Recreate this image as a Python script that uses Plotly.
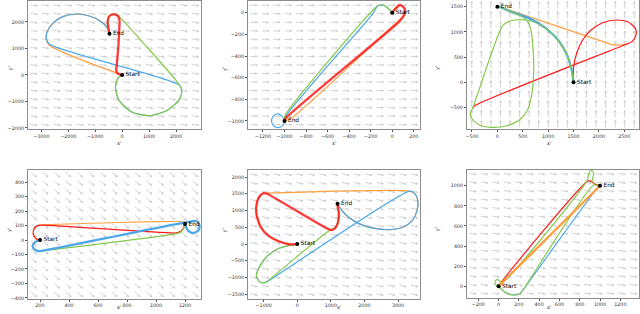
import numpy as np
import plotly.graph_objects as go

# ---------------- data ----------------
# Panel 1
p1_start = (0, 0)
p1_end = (-470, 1560)
p1_blue_x = [0, -161, -248, -124, 334, 1015, 1696, 2129, 2215, 2129, -2698, -2822, -2785, -2574, -2203, -1708, -1213, -780, -532, -470]
p1_blue_y = [0, -126, -465, -943, -1384, -1535, -1321, -918, -591, -377, 1157, 1384, 1635, 1950, 2201, 2302, 2226, 2013, 1761, 1560]
p1_orange_x = [0, -2698, -2822, -2785, -2574, -2203, -1708, -1213, -780, -532, -470]
p1_orange_y = [0, 1120, 1384, 1635, 1950, 2201, 2302, 2226, 2013, 1761, 1560]
p1_green_x = [0, -161, -248, -124, 334, 1015, 1696, 2129, 2215, 2129, -74, -161, -347, -495, -557, -520, -470]
p1_green_y = [0, -126, -465, -943, -1384, -1535, -1321, -918, -591, -377, 2176, 2264, 2302, 2201, 1950, 1698, 1560]
p1_red_x = [0, -161, -223, -198, -99, -99, -161, -309, -470, -532, -507, -470]
p1_red_y = [0, 63, 189, 377, 1887, 2075, 2226, 2289, 2226, 2050, 1761, 1560]

# Panel 2
p2_start = (0, 0)
p2_end = (-1000, -1000)
p2_blue_x = [0, -23, -54, -101, -141, -178, -990, -1005, -1040, -1080, -1112, -1120, -1100, -1060, -1025, -1000]
p2_blue_y = [0, 25, 55, 71, 55, -6, -960, -1025, -1058, -1058, -1030, -990, -950, -935, -955, -1000]
p2_orange_x = [0, 33, 70, 107, 120, 105, 85, -937, -1000]
p2_orange_y = [0, 40, 71, 49, 9, -40, -52, -975, -1000]
p2_green_x = [0, -23, -48, -79, -116, -147, -998, -1000]
p2_green_y = [0, 25, 49, 71, 71, 55, -954, -1000]
p2_red_x = [0, 33, 70, 107, 120, 101, 54, -989, -1000]
p2_red_y = [0, 40, 71, 49, 9, -37, -92, -975, -1000]

# Panel 3
p3_start = (1500, 0)
p3_end = (0, 1500)
p3_blue_x = [0, 302, 630, 958, 1221, 1385, 1464, 1500]
p3_blue_y = [1513, 1388, 1268, 1069, 805, 507, 242, 0]
p3_orange_x = [0, 2139, 2270, 2402, 2534]
p3_orange_y = [1513, 785, 745, 738, 758]
p3_green_x = [0, 301, 563, 662, 708, 715, 681, 596, 432, 169, -126, -356, -507, -533, -487, 91, 202, 334, 563, 760, 958, 1220, 1384, 1463, 1500]
p3_green_y = [1513, 1388, 1248, 1036, 573, 175, -222, -553, -751, -871, -897, -851, -719, -619, -520, 1103, 1196, 1235, 1235, 1182, 1069, 805, 507, 242, 0]
p3_red_x = [1500, 1502, 1561, 1680, 1844, 2074, 2337, 2567, 2718, 2731, 2652, 2501, -455, -487]
p3_red_y = [0, 307, 573, 838, 1036, 1182, 1235, 1202, 1069, 937, 805, 739, -474, -520]

# Panel 4
p4_start = (200, 0)
p4_end = (1200, 110)
p4_blue_x = [200, 166, 149, 159, 189, 218, 1246, 1281, 1299, 1292, 1258, 1225, 1207, 1200]
p4_blue_y = [0, -14, -37, -62, -76, -74, 129, 129, 101, 67, 48, 62, 90, 110]
p4_orange_x = [200, 172, 154, 159, 182, 211, 1215, 1200]
p4_orange_y = [0, 9, 39, 78, 99, 103, 122, 110]
p4_green_x = [200, 166, 149, 159, 189, 218, 1143, 1170, 1189, 1200]
p4_green_y = [0, -14, -37, -62, -76, -74, 44, 53, 78, 110]
p4_red_x = [200, 172, 154, 159, 182, 211, 1120, 1154, 1184, 1200]
p4_red_y = [0, 9, 39, 78, 99, 103, 48, 53, 74, 110]

# Panel 5
p5_start = (0, 0)
p5_end = (1200, 1200)
p5_blue_x = [0, -226, -573, -871, -1099, -1218, -1139, -1000, -918, 3351, 3500, 3590, 3570, 3431, 3153, 2756, 2359, 1962, 1664, 1416, 1267, 1200]
p5_blue_y = [0, -39, -139, -338, -636, -934, -1113, -1163, -1134, 1581, 1502, 1303, 1005, 706, 507, 428, 458, 557, 706, 905, 1084, 1200]
p5_orange_x = [0, -226, -573, -871, -1089, -1218, -1198, -1099, -1000, -911, 3351, 3500, 3590, 3570, 3431, 3153, 2756, 2359, 1962, 1664, 1416, 1267, 1200]
p5_orange_y = [0, -9, 90, 259, 507, 905, 1253, 1452, 1521, 1521, 1581, 1502, 1303, 1005, 706, 507, 428, 458, 557, 706, 905, 1084, 1200]
p5_green_x = [0, -226, -573, -871, -1099, -1218, -1139, -1000, -901, 986, 1086, 1166, 1225, 1235, 1206, 1200]
p5_green_y = [0, -39, -139, -338, -636, -934, -1113, -1163, -1113, 428, 458, 557, 726, 954, 1104, 1200]
p5_red_x = [0, -226, -573, -871, -1089, -1218, -1198, -1099, -1000, -901, 966, 1066, 1166, 1225, 1235, 1206, 1200]
p5_red_y = [0, -9, 90, 259, 507, 905, 1253, 1452, 1521, 1501, 428, 428, 527, 706, 954, 1104, 1200]

# Panel 6
p6_start = (0, 0)
p6_end = (1000, 1000)
p6_blue_x = [0, 33, 89, 154, 210, 243, 976, 1000]
p6_blue_y = [0, -33, -73, -86, -73, -33, 980, 1000]
p6_orange_x = [0, 1000]
p6_orange_y = [0, 1000]
p6_green_x = [0, -20, -36, -20, 7, 26, 877, 884, 900, 923, 937, 927, 933, 960, 1000]
p6_green_y = [0, 10, 43, 66, 60, 33, 1060, 1103, 1142, 1149, 1119, 1069, 1030, 1003, 1000]
p6_green2_x = [0, 33, 89, 154, 210, 243, 940, 1000]
p6_green2_y = [0, -33, -73, -86, -73, -33, 1010, 1000]
p6_red_x = [0, 15, 887, 915, 960, 1000]
p6_red_y = [0, 25, 1050, 1040, 1010, 1000]

# axis ticks
p1_xticks = [-3000, -2000, -1000, 0, 1000, 2000]
p1_yticks = [-2000, -1000, 0, 1000, 2000]
p2_xticks = [-1200, -1000, -800, -600, -400, -200, 0, 200]
p2_yticks = [-1000, -800, -600, -400, -200, 0]
p3_xticks = [-500, 0, 500, 1000, 1500, 2000, 2500]
p3_yticks = [-500, 0, 500, 1000, 1500]
p4_xticks = [200, 400, 600, 800, 1000, 1200]
p4_yticks = [-400, -300, -200, -100, 0, 100, 200, 300, 400]
p5_xticks = [-1000, 0, 1000, 2000, 3000]
p5_yticks = [-1500, -1000, -500, 0, 500, 1000, 1500, 2000]
p6_xticks = [-200, 0, 200, 400, 600, 800, 1000, 1200]
p6_yticks = [0, 200, 400, 600, 800, 1000]

# wind direction (screen degrees) per panel
wind_angle_deg = [-8, 0, 90, -40, -12, -8]

# ---------------- layout geometry ----------------
W, H = 640, 314
# pixel boxes (left, right, top, bottom)
boxes = [(28, 201, 1, 129), (248, 420, 1, 129), (467, 639, 0, 129),
         (28, 201, 170.3, 298.7), (248, 420, 170.3, 298.7), (467, 639, 169.7, 297.7)]
xranges = [(-3494, 2928), (-1339, 258), (-598, 2790), (117, 1310), (-1467, 3655), (-311, 1384)]
yranges = [(-2038, 2792), (-1074, 108), (-931, 1633), (-405, 481), (-1631, 2200), (-113, 1159)]
thick = ["red", "red", "blue", "blue", "red", "orange"]
grid_n = [(15, 15), (15, 15), (18, 13), (15, 15), (15, 15), (15, 15)]
xtitle_gap = [14, 14, 14, 13.3, 13.3, 13.8]
xtitle_shift = [0, 0, 0, 0, 5, 0]

COL = {"blue": "#4aa8ea", "orange": "#ff9e3d", "green": "#86c94a", "red": "#ff1a1a"}

panels = [
    dict(start=p1_start, end=p1_end, paths=[("orange", p1_orange_x, p1_orange_y), ("blue", p1_blue_x, p1_blue_y), ("green", p1_green_x, p1_green_y), ("red", p1_red_x, p1_red_y)], xt=p1_xticks, yt=p1_yticks),
    dict(start=p2_start, end=p2_end, paths=[("orange", p2_orange_x, p2_orange_y), ("blue", p2_blue_x, p2_blue_y), ("green", p2_green_x, p2_green_y), ("red", p2_red_x, p2_red_y)], xt=p2_xticks, yt=p2_yticks),
    dict(start=p3_start, end=p3_end, paths=[("orange", p3_orange_x, p3_orange_y), ("red", p3_red_x, p3_red_y), ("blue", p3_blue_x, p3_blue_y), ("green", p3_green_x, p3_green_y)], xt=p3_xticks, yt=p3_yticks),
    dict(start=p4_start, end=p4_end, paths=[("orange", p4_orange_x, p4_orange_y), ("red", p4_red_x, p4_red_y), ("green", p4_green_x, p4_green_y), ("blue", p4_blue_x, p4_blue_y)], xt=p4_xticks, yt=p4_yticks),
    dict(start=p5_start, end=p5_end, paths=[("orange", p5_orange_x, p5_orange_y), ("blue", p5_blue_x, p5_blue_y), ("green", p5_green_x, p5_green_y), ("red", p5_red_x, p5_red_y)], xt=p5_xticks, yt=p5_yticks),
    dict(start=p6_start, end=p6_end, paths=[("blue", p6_blue_x, p6_blue_y), ("green", p6_green2_x, p6_green2_y), ("red", p6_red_x, p6_red_y), ("green", p6_green_x, p6_green_y), ("orange", p6_orange_x, p6_orange_y)], xt=p6_xticks, yt=p6_yticks),
]

fig = go.Figure()
annotations = []
layout_axes = {}

for k, p in enumerate(panels):
    n = k + 1
    xa = "x" if n == 1 else f"x{n}"
    ya = "y" if n == 1 else f"y{n}"
    l, r, t, b = boxes[k]
    x0, x1 = xranges[k]
    y0, y1 = yranges[k]
    pw, ph = r - l, b - t

    # wind field (quiver-like arrows)
    nx, ny = grid_n[k]
    a = np.deg2rad(wind_angle_deg[k])
    L = 7.0
    sx = (x1 - x0) / pw
    sy = (y1 - y0) / ph
    qx, qy = [], []
    for i in range(nx):
        for j in range(ny):
            cx = x0 + (i + 0.5) / nx * (x1 - x0)
            cy = y0 + (j + 0.5) / ny * (y1 - y0)
            dx, dy = L * np.cos(a) / 2, L * np.sin(a) / 2
            tx, ty = cx + dx * sx, cy + dy * sy
            qx += [cx - dx * sx, tx, None]
            qy += [cy - dy * sy, ty, None]
            for s in (1, -1):
                hb = a + np.pi - s * 0.45
                qx += [tx, tx + 2.2 * np.cos(hb) * sx, None]
                qy += [ty, ty + 2.2 * np.sin(hb) * sy, None]
    fig.add_trace(go.Scatter(x=qx, y=qy, mode="lines", line=dict(color="#c8c8c8", width=0.8),
                             xaxis=xa, yaxis=ya, hoverinfo="skip", showlegend=False))

    for cname, px_, py_ in p["paths"]:
        w = 2.3 if cname == thick[k] else 1.2
        op = 0.85 if cname == "red" and thick[k] == "red" else 1.0
        fig.add_trace(go.Scatter(x=px_, y=py_, mode="lines",
                                 line=dict(color=COL[cname], width=w, shape="spline", smoothing=0.7),
                                 opacity=op, xaxis=xa, yaxis=ya, showlegend=False, hoverinfo="skip"))

    fig.add_trace(go.Scatter(x=[p["start"][0], p["end"][0]], y=[p["start"][1], p["end"][1]],
                             mode="markers+text", text=["Start", "End"], textposition="middle right",
                             textfont=dict(size=5.8, color="black", family="DejaVu Sans"),
                             marker=dict(color="black", size=4),
                             xaxis=xa, yaxis=ya, showlegend=False, hoverinfo="skip", cliponaxis=False))

    axis_common = dict(showgrid=False, zeroline=False, showline=True, mirror=True, automargin=False,
                       tickangle=0, linecolor="#8c8c8c", linewidth=1, ticks="outside", ticklen=2,
                       tickcolor="#555", tickfont=dict(size=4.8, color="#333", family="DejaVu Sans"))
    layout_axes["xaxis" if n == 1 else f"xaxis{n}"] = dict(
        domain=[l / W, r / W], range=[x0, x1], anchor=ya, tickvals=p["xt"], **axis_common)
    layout_axes["yaxis" if n == 1 else f"yaxis{n}"] = dict(
        domain=[1 - b / H, 1 - t / H], range=[y0, y1], anchor=xa, tickvals=p["yt"], **axis_common)

    annotations.append(dict(text="x'", x=((l + r) / 2 + xtitle_shift[k]) / W, y=1 - (b + xtitle_gap[k]) / H,
                            xref="paper", yref="paper",
                            showarrow=False, font=dict(size=5, color="#222", family="DejaVu Sans")))
    annotations.append(dict(text="y'", x=(l - 24) / W, y=1 - ((t + b) / 2) / H, xref="paper", yref="paper",
                            showarrow=False, textangle=-90, font=dict(size=5, color="#222", family="DejaVu Sans")))

fig.update_layout(template="none", width=W, height=H, margin=dict(l=0, r=0, t=0, b=0, autoexpand=False),
                  paper_bgcolor="white", plot_bgcolor="white", annotations=annotations, **layout_axes)

fig.write_html("out.html", config={"displayModeBar": False},
               post_script="document.body.style.margin='0';document.body.style.overflow='hidden';")
